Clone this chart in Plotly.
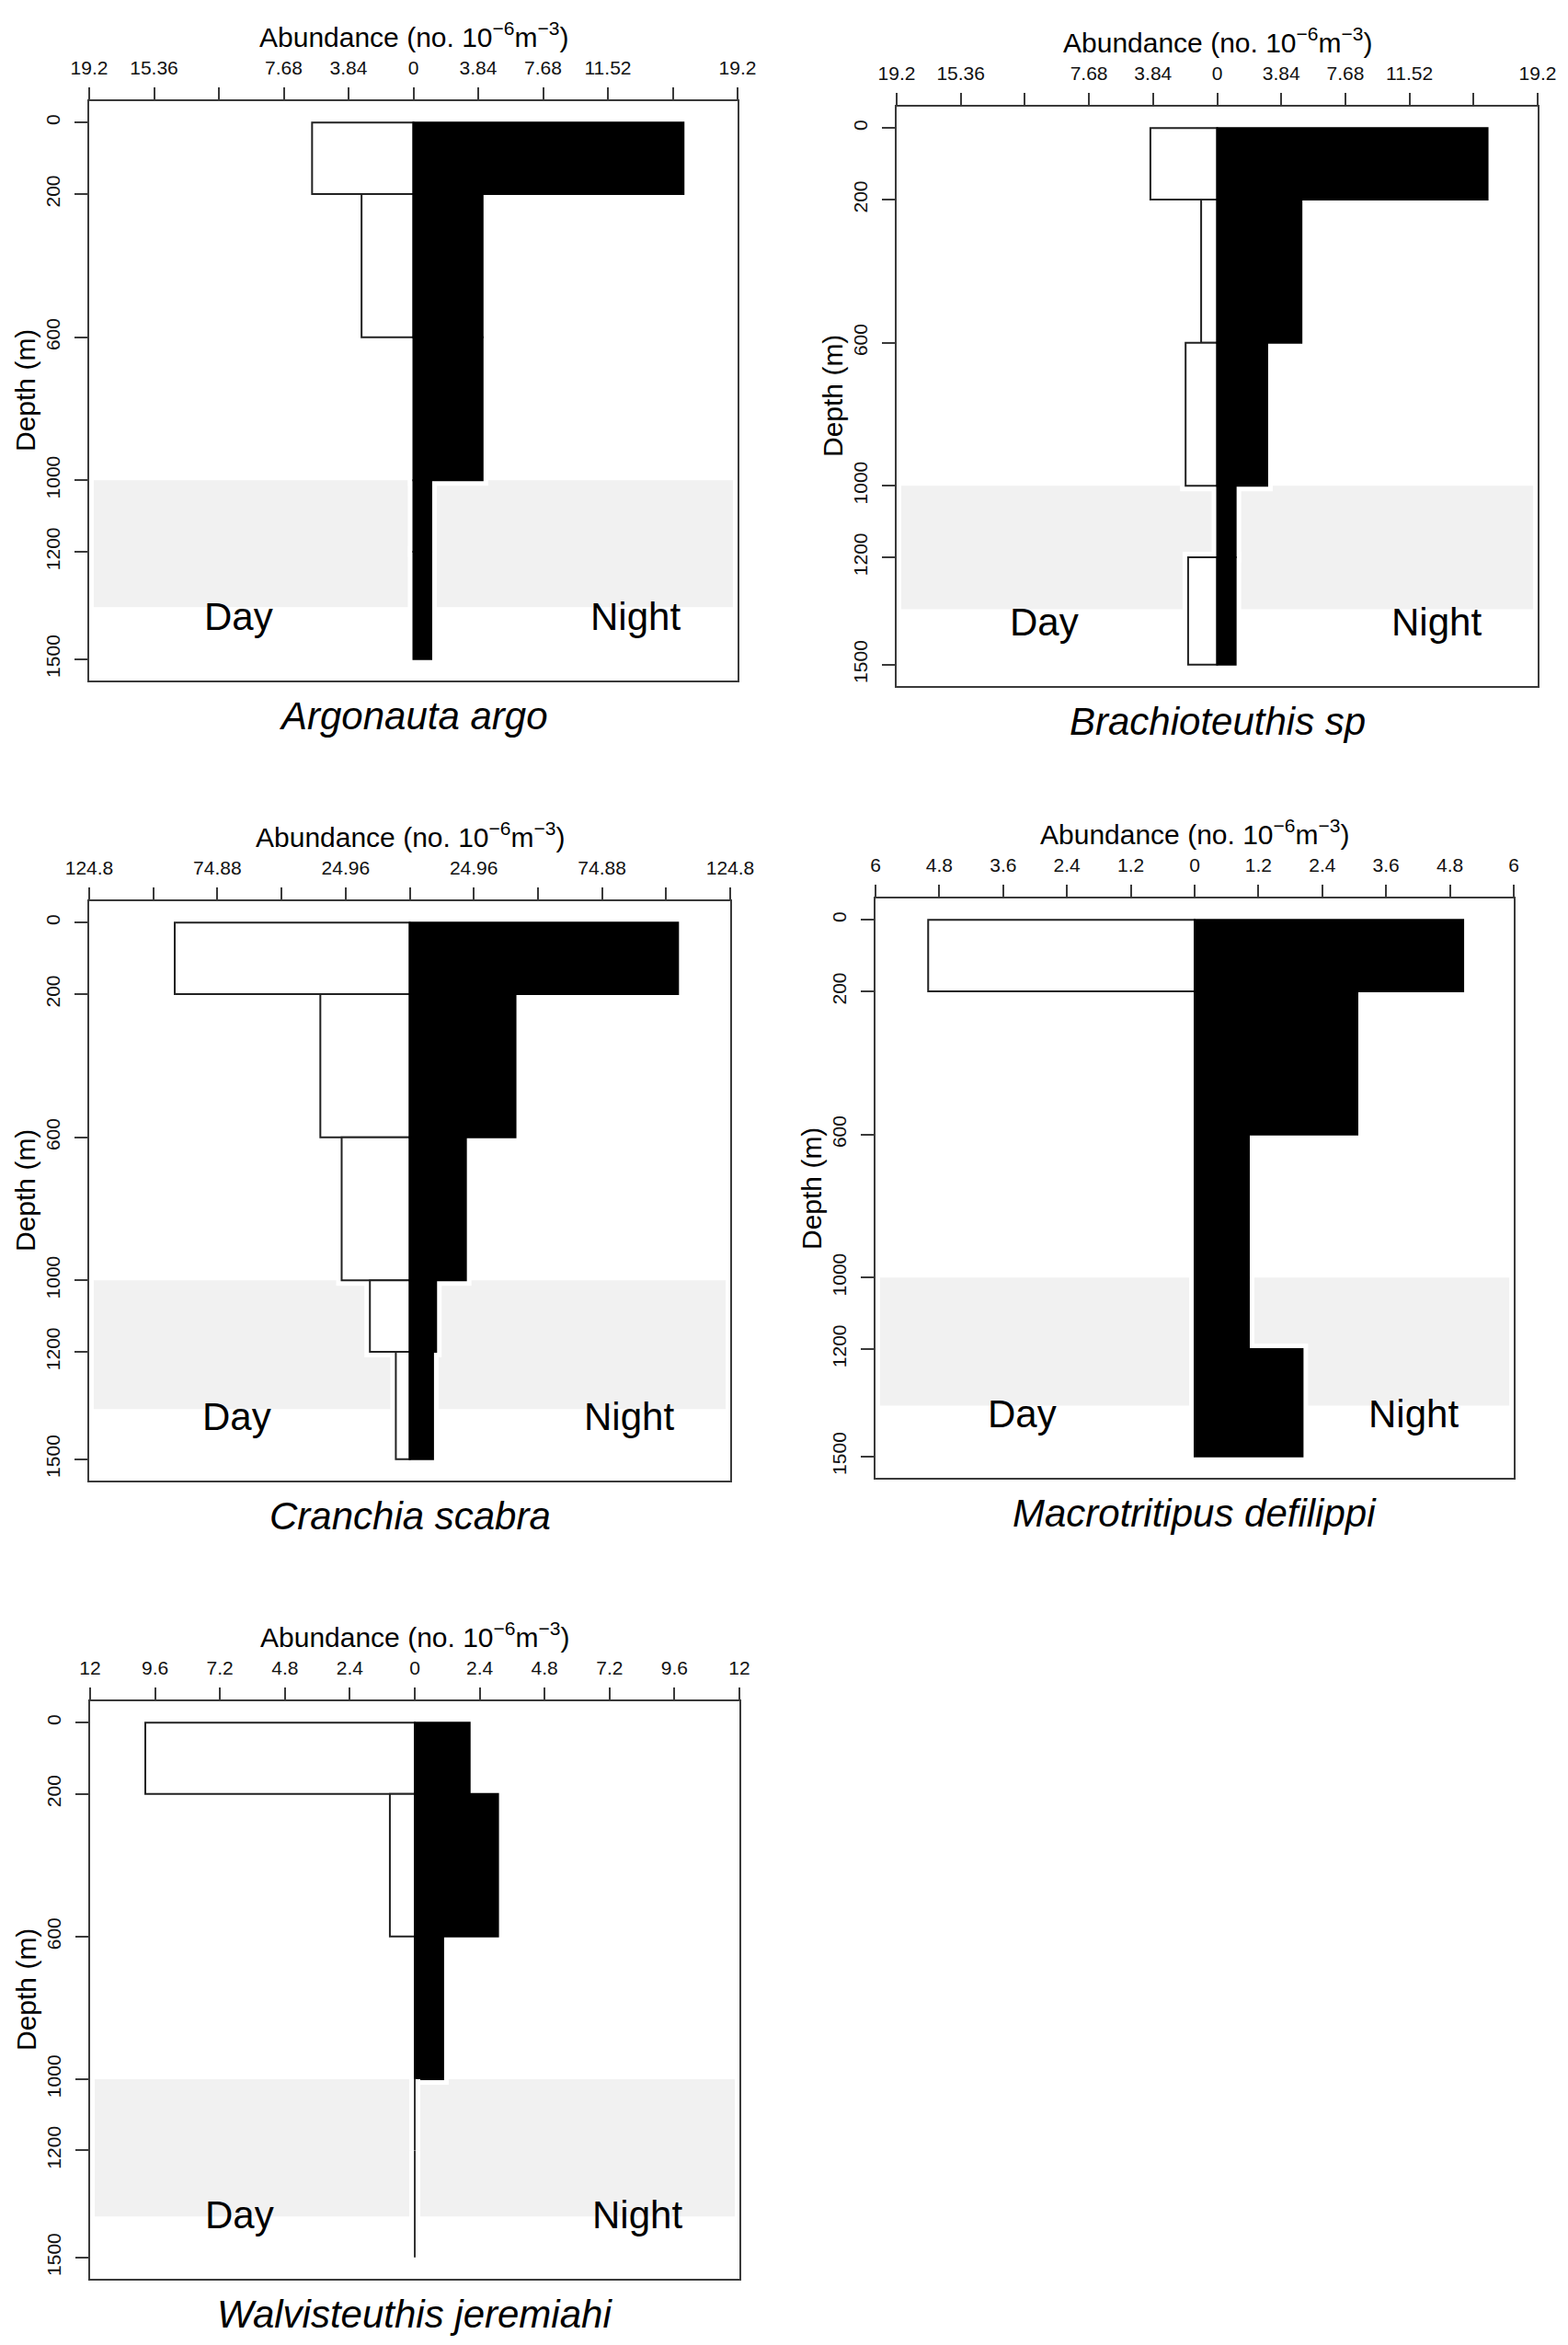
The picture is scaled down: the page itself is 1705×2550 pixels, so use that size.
import numpy as np
import plotly.graph_objects as go

# depth bins (m)
depth_top = [0, 200, 600, 1000, 1200]
depth_bottom = [200, 600, 1000, 1200, 1500]
depth_ticks = [0, 200, 600, 1000, 1200, 1500]

species = ["Argonauta argo", "Brachioteuthis sp", "Cranchia scabra",
           "Macrotritipus defilippi", "Walvisteuthis jeremiahi"]

# abundance (no. 10^-6 m^-3) per depth bin
day_argonauta = [6.0, 3.07, 0, 0, 0]
night_argonauta = [16.0, 4.1, 4.1, 1.06, 1.06]
day_brachioteuthis = [4.0, 0.96, 1.89, 0, 1.74]
night_brachioteuthis = [16.2, 5.05, 3.0, 1.11, 1.11]
day_cranchia = [91.5, 34.8, 26.5, 15.5, 5.4]
night_cranchia = [104.5, 41.2, 21.9, 10.3, 9.1]
day_macrotritipus = [5.01, 0, 0, 0, 0]
night_macrotritipus = [5.05, 3.06, 1.02, 1.02, 2.03]
day_walvisteuthis = [9.96, 0.92, 0, 0, 0]
night_walvisteuthis = [2.03, 3.08, 1.05, 0, 0]

day_values = [day_argonauta, day_brachioteuthis, day_cranchia, day_macrotritipus, day_walvisteuthis]
night_values = [night_argonauta, night_brachioteuthis, night_cranchia, night_macrotritipus, night_walvisteuthis]

x_limits = [19.2, 19.2, 124.8, 6, 12]
x_tick_labels = [
    ["19.2", "15.36", "", "7.68", "3.84", "0", "3.84", "7.68", "11.52", "", "19.2"],
    ["19.2", "15.36", "", "7.68", "3.84", "0", "3.84", "7.68", "11.52", "", "19.2"],
    ["124.8", "", "74.88", "", "24.96", "", "24.96", "", "74.88", "", "124.8"],
    ["6", "4.8", "3.6", "2.4", "1.2", "0", "1.2", "2.4", "3.6", "4.8", "6"],
    ["12", "9.6", "7.2", "4.8", "2.4", "0", "2.4", "4.8", "7.2", "9.6", "12"],
]

# grey band (depth)
band_top = 1000
band_bottom = [1355, 1345, 1360, 1358, 1385]

W, H = 1705, 2550
OFF = 8  # default body margin of the html page
# plot boxes in page pixels: left, right, top, bottom
boxes = [(97, 802, 110, 740), (975, 1672, 116, 746),
         (97, 794, 980, 1610), (952, 1646, 977, 1607),
         (98, 804, 1850, 2478)]

FONT = "Liberation Sans, Arial, sans-serif"
AXCOL = "#3a3a3a"

centers = [(a + b) / 2 for a, b in zip(depth_top, depth_bottom)]
widths = [b - a for a, b in zip(depth_top, depth_bottom)]


def px(x):
    return (x - OFF) / W


def py(y):
    return 1 - (y - OFF) / H


fig = go.Figure()
annotations = []
shapes = []
layout = {}

for i in range(5):
    n = "" if i == 0 else str(i + 1)
    xref, yref = "x" + n, "y" + n
    l, r, t, b = boxes[i]
    lim = x_limits[i]
    day = [-v if v else None for v in day_values[i]]
    night = [v if v else None for v in night_values[i]]

    # white halo around the bars (cuts the grey band like in the original)
    for vals in (day, night):
        fig.add_trace(go.Bar(x=vals, y=centers, width=widths, orientation="h",
                             marker=dict(color="white", line=dict(color="white", width=12)),
                             xaxis=xref, yaxis=yref, showlegend=False, hoverinfo="skip"))
    # empty bins -> outline at zero
    for k in range(5):
        if not day_values[i][k] and not night_values[i][k]:
            fig.add_trace(go.Scatter(x=[0, 0], y=[depth_top[k], depth_bottom[k]], mode="lines",
                                     line=dict(color="white", width=12), xaxis=xref, yaxis=yref,
                                     showlegend=False, hoverinfo="skip"))
            fig.add_trace(go.Scatter(x=[0, 0], y=[depth_top[k], depth_bottom[k]], mode="lines",
                                     line=dict(color="#333333", width=2), xaxis=xref, yaxis=yref,
                                     showlegend=False, hoverinfo="skip"))
    fig.add_trace(go.Bar(x=day, y=centers, width=widths, orientation="h", name="Day",
                         marker=dict(color="white", line=dict(color="#222222", width=2)),
                         xaxis=xref, yaxis=yref, showlegend=False))
    fig.add_trace(go.Bar(x=night, y=centers, width=widths, orientation="h", name="Night",
                         marker=dict(color="black", line=dict(color="black", width=2)),
                         xaxis=xref, yaxis=yref, showlegend=False))

    layout["xaxis" + n] = dict(
        domain=[px(l), px(r)], anchor=yref, side="top", range=[-lim, lim],
        tickvals=list(np.linspace(-lim, lim, 11)), ticktext=x_tick_labels[i],
        ticks="outside", ticklen=13, tickwidth=2, tickcolor=AXCOL,
        showline=True, linecolor=AXCOL, linewidth=2, mirror=True,
        showgrid=False, zeroline=False, automargin=False, ticklabelstandoff=6,
        tickfont=dict(family=FONT, size=21, color="#111111"),
    )
    layout["yaxis" + n] = dict(
        domain=[py(b), py(t)], anchor=xref, range=[1560, -60],
        tickvals=depth_ticks, tickangle=-90,
        ticks="outside", ticklen=14, tickwidth=2, tickcolor=AXCOL,
        showline=True, linecolor=AXCOL, linewidth=2, mirror=True,
        showgrid=False, zeroline=False, automargin=False, ticklabelstandoff=8,
        tickfont=dict(family=FONT, size=21, color="#111111"),
    )

    shapes.append(dict(type="rect", xref=xref + " domain", yref=yref,
                       x0=0.007, x1=0.993, y0=band_top, y1=band_bottom[i],
                       fillcolor="#f1f1f1", line=dict(width=0), layer="below"))

    common = dict(showarrow=False, xanchor="center", yanchor="middle")
    annotations += [
        dict(text="Abundance (no. 10<sup>−6</sup>m<sup>−3</sup>)", xref="paper", yref="paper",
             x=px((l + r) / 2), y=py(t - 72),
             font=dict(family=FONT, size=30, color="black"), **common),
        dict(text="Depth (m)", xref="paper", yref="paper", textangle=-90,
             x=px(l - 70), y=py((t + b) / 2),
             font=dict(family=FONT, size=30, color="black"), **common),
        dict(text="<i>" + species[i] + "</i>", xref="paper", yref="paper",
             x=px((l + r) / 2), y=py(b + 38),
             font=dict(family=FONT, size=42, color="black"), **common),
        dict(text="Day", xref=xref, yref=yref, x=-0.54 * lim, y=1380,
             font=dict(family=FONT, size=42, color="black"), **common),
        dict(text="Night", xref=xref, yref=yref, x=0.685 * lim, y=1380,
             font=dict(family=FONT, size=42, color="black"), **common),
    ]

fig.update_layout(**layout)
fig.update_layout(
    template="none",
    width=W, height=H, margin=dict(l=0, r=0, t=0, b=0, autoexpand=False),
    paper_bgcolor="white", plot_bgcolor="white",
    barmode="overlay", showlegend=False,
    shapes=shapes, annotations=annotations,
    font=dict(family=FONT, color="black"),
)

fig.write_html("out.html")
